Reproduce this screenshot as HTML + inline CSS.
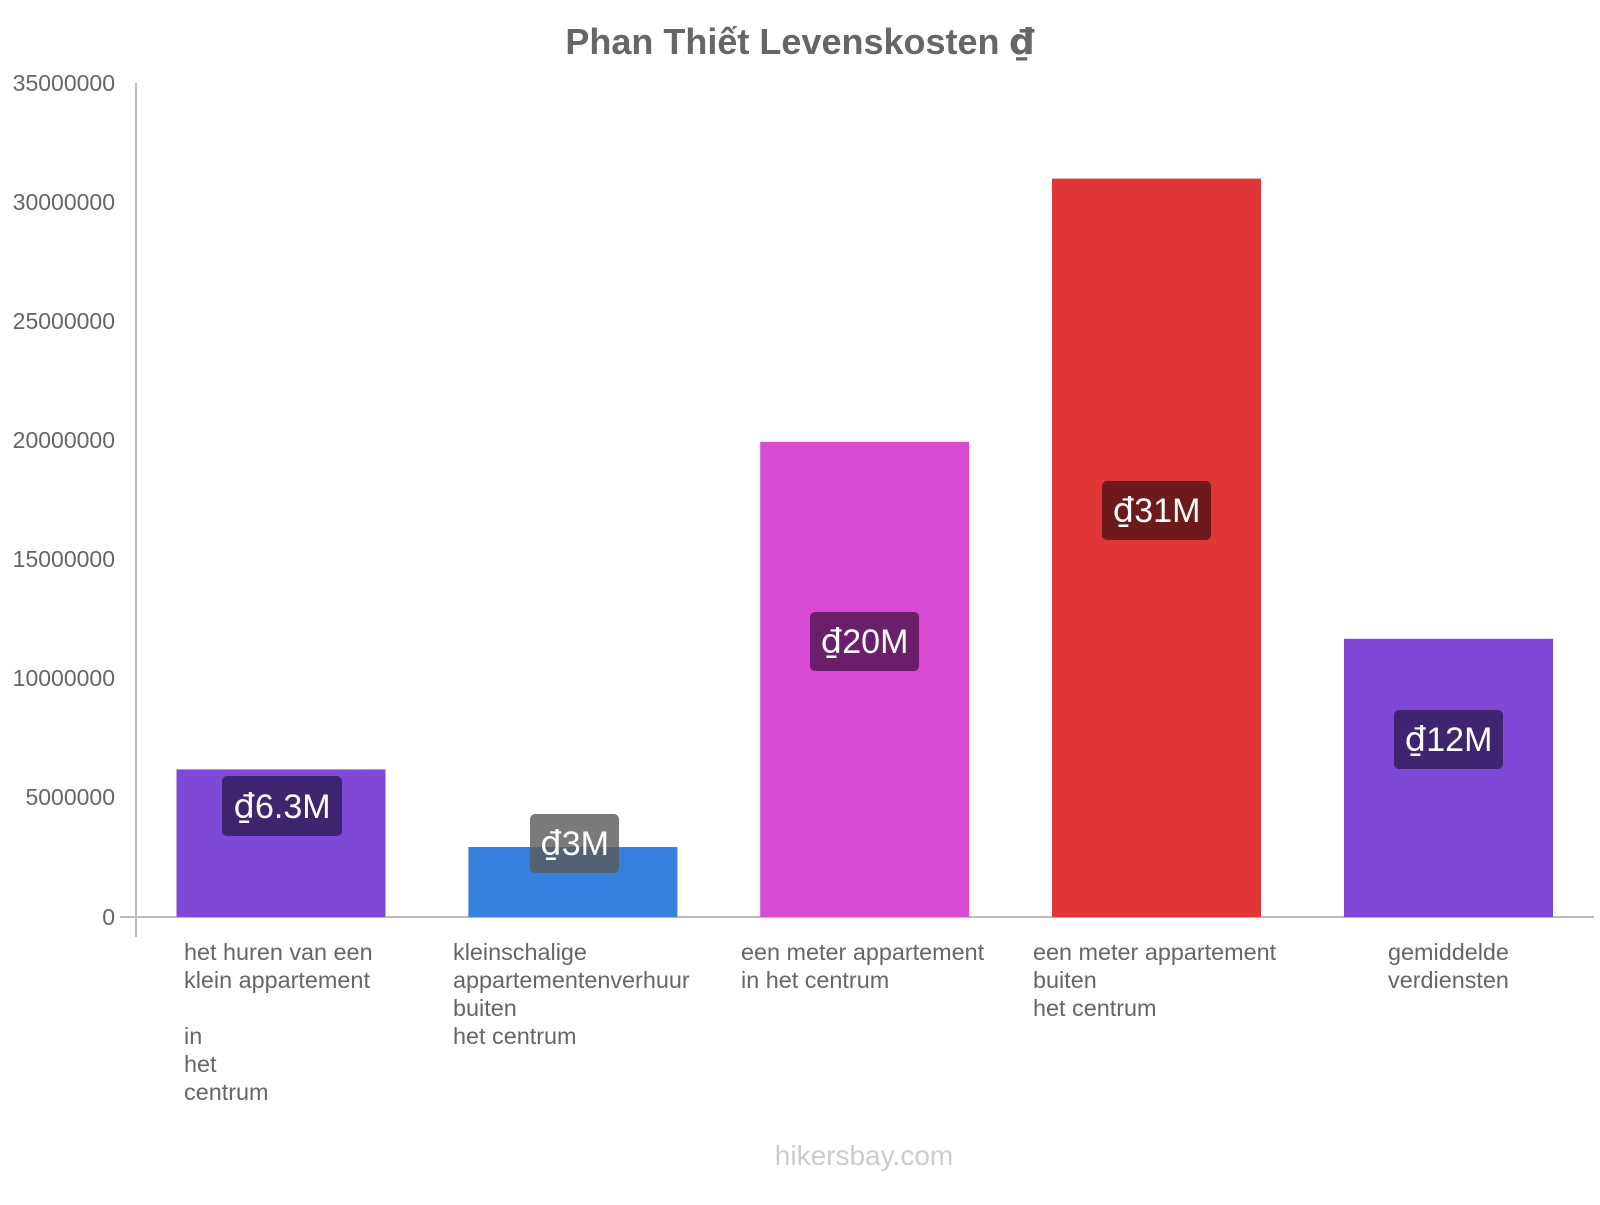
<!DOCTYPE html>
<html><head><meta charset="utf-8"><style>
html,body{margin:0;padding:0;background:#fff;}
.d{font-family:"DejaVu Sans",sans-serif;}
</style></head><body>
<svg width="1600" height="1200" xmlns="http://www.w3.org/2000/svg" font-family="'Liberation Sans', sans-serif">
<rect width="1600" height="1200" fill="#fff"/>
<text x="800" y="54" text-anchor="middle" font-size="36" font-weight="bold" fill="#666">Phan Thiết Levenskosten <tspan class="d">₫</tspan></text>
<g font-size="23" fill="#666" text-anchor="end">
<text x="115" y="91">35000000</text>
<text x="115" y="210">30000000</text>
<text x="115" y="329">25000000</text>
<text x="115" y="448">20000000</text>
<text x="115" y="567">15000000</text>
<text x="115" y="686">10000000</text>
<text x="115" y="805">5000000</text>
<text x="115" y="925">0</text>
</g>
<line x1="136" y1="83" x2="136" y2="937" stroke="#bbb" stroke-width="2"/>
<line x1="120" y1="917" x2="1594" y2="917" stroke="#bbb" stroke-width="2"/>
<rect x="176.5" y="769.4" width="209" height="147.6" fill="#8048d6"/>
<rect x="468.4" y="847" width="209" height="70" fill="#3580dd"/>
<rect x="760.2" y="441.8" width="209" height="475.2" fill="#d84ad3"/>
<rect x="1052" y="178.6" width="209" height="738.4" fill="#e13537"/>
<rect x="1344" y="638.8" width="209" height="278.2" fill="#8048d6"/>
<rect x="222" y="776" width="120" height="60" rx="5" fill="#3f2470"/>
<rect x="530" y="814" width="89" height="59" rx="5" fill="#5a5a5a" fill-opacity="0.8"/>
<rect x="810" y="612" width="109" height="59" rx="5" fill="#6b1f6a"/>
<rect x="1102" y="481" width="109" height="59" rx="5" fill="#6e1a1b"/>
<rect x="1394" y="710" width="109" height="59" rx="5" fill="#3f2470"/>
<g font-size="34" fill="#fff" text-anchor="middle">
<text x="282" y="818"><tspan class="d">₫</tspan>6.3M</text>
<text x="574.5" y="855"><tspan class="d">₫</tspan>3M</text>
<text x="864.5" y="653"><tspan class="d">₫</tspan>20M</text>
<text x="1156.5" y="522"><tspan class="d">₫</tspan>31M</text>
<text x="1448.5" y="751"><tspan class="d">₫</tspan>12M</text>
</g>
<g font-size="23.4" fill="#666">
<text x="184" y="960">het huren van een</text>
<text x="184" y="988">klein appartement</text>
<text x="184" y="1044">in</text>
<text x="184" y="1072">het</text>
<text x="184" y="1100">centrum</text>
<text x="453" y="960">kleinschalige</text>
<text x="453" y="988">appartementenverhuur</text>
<text x="453" y="1016">buiten</text>
<text x="453" y="1044">het centrum</text>
<text x="741" y="960">een meter appartement</text>
<text x="741" y="988">in het centrum</text>
<text x="1033" y="960">een meter appartement</text>
<text x="1033" y="988">buiten</text>
<text x="1033" y="1016">het centrum</text>
<text x="1388" y="960">gemiddelde</text>
<text x="1388" y="988">verdiensten</text>
</g>
<text x="864" y="1165" text-anchor="middle" font-size="28" fill="#ccc">hikersbay.com</text>
</svg>
</body></html>
